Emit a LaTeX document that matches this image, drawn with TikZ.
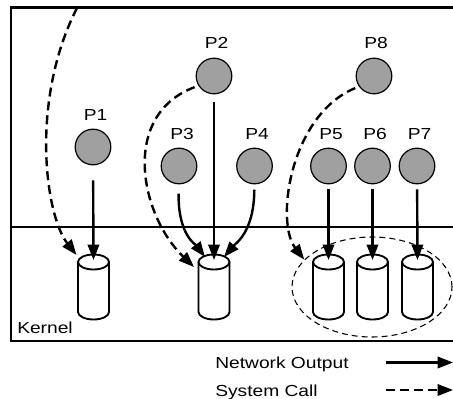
\documentclass[tikz,border=0pt]{standalone}
\usepackage{fontspec}
\setmainfont{Liberation Sans}[FakeStretch=1.2]
\usetikzlibrary{arrows.meta,shapes.geometric}
\definecolor{procgray}{RGB}{160,160,160}
\begin{document}
\begin{tikzpicture}[x=0.75pt,y=-0.75pt,
  font=\fontsize{12}{14}\selectfont,
  proc/.style={circle,draw=black,line width=0.9pt,fill=procgray,minimum size=26.7pt,inner sep=0pt},
  plabel/.style={inner sep=0pt,anchor=base},
  tip/.style={-{Triangle[length=11.5pt,width=8.5pt]}},
  net/.style={tip,line width=1.8pt},
  sys/.style={tip,line width=1.8pt,dash pattern=on 6.75pt off 3.75pt},
  canline/.style={line width=1.4pt},
  can/.pic={
    \draw[canline,fill=white] (-15.5,0) -- (-15.5,50)
      arc[start angle=180,end angle=0,x radius=15.5,y radius=7.5] -- (15.5,0);
    \draw[canline,fill=white] (0,0) ellipse[x radius=15.5,y radius=7.5];
    \coordinate (-top) at (0,-2);
    \coordinate (-tl) at (-9,-5);
    \coordinate (-tr) at (10,-5);
    \coordinate (-nw) at (-17,-7);
    \coordinate (-w) at (-20,5);
  }
]
\useasboundingbox (0,0) rectangle (453,399);

% user space / kernel frame
\draw[line width=2.2pt] (11,7.5) rectangle (470,341);
\draw[line width=0.9pt] (11,227) -- (470,227);
\node[anchor=base west,inner sep=0pt] (kern) at (17,333) {Kernel};

% processes
\node[proc] (p1) at (93,147) {};
\node[proc] (p2) at (214,76) {};
\node[proc] (p3) at (179,166) {};
\node[proc] (p4) at (254.5,166) {};
\node[proc] (p5) at (328.5,166) {};
\node[proc] (p6) at (372.5,166) {};
\node[proc] (p7) at (417,166) {};
\node[proc] (p8) at (374,76) {};

\node[plabel] (l1) at (95.5,121) {P1};
\node[plabel] (l2) at (216.5,49) {P2};
\node[plabel] (l3) at (182,140) {P3};
\node[plabel] (l4) at (257,140) {P4};
\node[plabel] (l5) at (331,140) {P5};
\node[plabel] (l6) at (375,140) {P6};
\node[plabel] (l7) at (419.5,140) {P7};
\node[plabel] (l8) at (376,49) {P8};

% shared group of queues
\node[ellipse,draw,line width=0.8pt,dash pattern=on 4.5pt off 3pt,
      minimum width=120pt,minimum height=75pt,inner sep=0pt] (grp) at (372,287) {};

% kernel queues
\pic (c1) at (93.5,262) {can};
\pic (c2) at (214,262) {can};
\pic (c5) at (328.5,262) {can};
\pic (c6) at (372.5,262) {can};
\pic (c7) at (417.5,262) {can};

% network output
\draw[net,shorten <=11.25pt] (p1) -- (c1-top);
\draw[net,shorten <=6pt] (p2) -- (c2-top);
\draw[net,shorten <=7pt] (p3) .. controls (178,235) and (196,245) .. (c2-tl);
\draw[net,shorten <=4pt] (p4) .. controls (254,232) and (236,243) .. (c2-tr);
\draw[net,shorten <=3.75pt] (p5) -- (c5-top);
\draw[net,shorten <=3.75pt] (p6) -- (c6-top);
\draw[net,shorten <=3.75pt] (p7) -- (c7-top);

% system calls
\coordinate (s0) at (77,8);
\draw[sys] (s0) .. controls (30,100) and (45,215) .. (c1-nw);
\draw[sys,shorten <=3pt] (p2.212) .. controls (120,115) and (140,215) .. (c2-w);
\draw[sys,shorten <=3pt] (p8.215) .. controls (290,115) and (275,222) .. (grp.158);

% legend
\node[anchor=base west,inner sep=0pt] (lnet) at (215,368) {Network Output};
\node[anchor=base west,inner sep=0pt] (lsys) at (215,396) {System Call};
\coordinate (n1) at (386,362.5);
\coordinate (n2) at (453,362.5);
\draw[net] (n1) -- (n2);
\coordinate (m1) at (386,390);
\coordinate (m2) at (453,390);
\draw[sys] (m1) -- (m2);
\end{tikzpicture}
\end{document}
